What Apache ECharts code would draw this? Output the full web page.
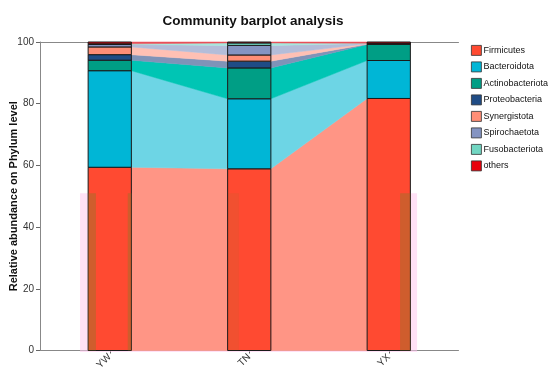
<!DOCTYPE html>
<html>
<head>
<meta charset="utf-8">
<script src="https://cdn.jsdelivr.net/npm/echarts@6/dist/echarts.min.js"></script>
<style>html,body{margin:0;padding:0;background:#fff}#c{width:550px;height:375px}</style>
</head>
<body>
<div id="c"></div>
<script>
// ---- data ----
const categories = ['YW', 'TN', 'YX'];
const phyla = ['Firmicutes', 'Bacteroidota', 'Actinobacteriota', 'Proteobacteria',
               'Synergistota', 'Spirochaetota', 'Fusobacteriota', 'others'];
const firmicutes       = [59.4, 58.9, 81.7];
const bacteroidota     = [31.3, 22.7, 12.3];
const actinobacteriota = [3.4, 10.0, 5.2];
const proteobacteria   = [1.8, 2.2, 0.1];
const synergistota     = [2.5, 2.0, 0.1];
const spirochaetota    = [0.8, 3.1, 0.1];
const fusobacteriota   = [0.2, 0.8, 0.1];
const others           = [0.6, 0.3, 0.4];
const yTicks = [0, 20, 40, 60, 80, 100];
const shadeTop = 51; // top of the faint pink backdrop

// ---- styles ----
const barColors  = ['#FF4A31', '#00B6D6', '#009E85', '#1F4C85', '#FF8E76', '#8494C2', '#71D6C2', '#E8000B'];
const flowColors = ['#FF9585', '#6DD5E5', '#00C5B4', '#7F93B8', '#FFC0B4', '#B3BDD9', '#A6E8DC', '#E8505A'];
const BAR_FRAC = 0.31;
const FONT = 'Liberation Sans, Arial, sans-serif';

const values = [firmicutes, bacteroidota, actinobacteriota, proteobacteria,
                synergistota, spirochaetota, fusobacteriota, others];
// cumulative stacks
const bottoms = [], tops = [];
values.forEach((arr, k) => {
  bottoms.push(arr.map((v, i) => k === 0 ? 0 : tops[k - 1][i]));
  tops.push(arr.map((v, i) => bottoms[k][i] + v));
});

function band(api) { return api.coord([1, 0])[0] - api.coord([0, 0])[0]; }

const barSeries = phyla.map((name, k) => ({
  name: name,
  type: 'custom',
  z: 3,
  itemStyle: { color: barColors[k] },
  data: categories.map((c, i) => [i, bottoms[k][i], tops[k][i]]),
  renderItem: function (params, api) {
    const i = api.value(0);
    const pt = api.coord([i, api.value(2)]);
    const pb = api.coord([i, api.value(1)]);
    const w = band(api) * BAR_FRAC;
    return {
      type: 'rect',
      shape: { x: pt[0] - w / 2, y: pt[1], width: w, height: pb[1] - pt[1] },
      style: { fill: barColors[k], stroke: '#1a1a1a', lineWidth: 1 }
    };
  }
}));

const flowData = [];
values.forEach((arr, k) => {
  for (let i = 0; i < categories.length - 1; i++) {
    flowData.push([i, bottoms[k][i], tops[k][i], bottoms[k][i + 1], tops[k][i + 1], k]);
  }
});

const flowSeries = {
  type: 'custom',
  z: 2,
  silent: true,
  data: flowData,
  renderItem: function (params, api) {
    const i = api.value(0), k = api.value(5);
    const w = band(api) * BAR_FRAC;
    const a0 = api.coord([i, api.value(1)]), a1 = api.coord([i, api.value(2)]);
    const b0 = api.coord([i + 1, api.value(3)]), b1 = api.coord([i + 1, api.value(4)]);
    const xr = a0[0] + w / 2, xl = b0[0] - w / 2;
    return {
      type: 'polygon',
      shape: { points: [[xr, a1[1]], [xl, b1[1]], [xl, b0[1]], [xr, a0[1]]] },
      style: { fill: flowColors[k], stroke: flowColors[k], lineWidth: 0.5 }
    };
  }
};

// faint pink backdrop seen in the reference
const shadeSeries = {
  type: 'custom',
  z: 1,
  silent: true,
  data: [[0, shadeTop]],
  renderItem: function (params, api) {
    const bw = band(api);
    const p0 = api.coord([0, api.value(1)]);
    const p2 = api.coord([categories.length - 1, 0]);
    const xl = p0[0] - 0.213 * bw, xr = p2[0] + 0.203 * bw;
    return {
      type: 'rect',
      shape: { x: xl, y: p0[1], width: xr - xl, height: p2[1] - p0[1] + 1.5 },
      style: { fill: 'rgba(255,200,238,0.55)' }
    };
  }
};

// brownish tinted strips over the lower bars in the reference
const stripSeries = {
  type: 'custom',
  z: 4,
  silent: true,
  data: [[0, shadeTop]],
  renderItem: function (params, api) {
    const bw = band(api);
    const yTop = api.coord([0, api.value(1)])[1];
    const yBot = api.coord([0, 0])[1];
    const specs = [[0, -0.154, -0.099, 0.42], [0, 0.129, 0.155, 0.42],
                   [1, -0.150, -0.074, 0.12], [2, 0.081, 0.155, 0.42]];
    return {
      type: 'group',
      children: specs.map(s => {
        const cx = api.coord([s[0], 0])[0];
        return {
          type: 'rect',
          shape: { x: cx + s[1] * bw, y: yTop, width: (s[2] - s[1]) * bw, height: yBot - yTop },
          style: { fill: 'rgba(140,120,40,' + s[3] + ')' }
        };
      })
    };
  }
};

const chart = echarts.init(document.getElementById('c'), null, { renderer: 'canvas' });
chart.setOption({
  animation: false,
  backgroundColor: '#fff',
  title: {
    text: 'Community barplot analysis',
    left: 248, top: 9, textAlign: 'center',
    textStyle: { fontFamily: FONT, fontSize: 13.5, fontWeight: 'bold', color: '#111' }
  },
  legend: {
    data: phyla,
    orient: 'vertical',
    left: 471, top: 45,
    padding: 0,
    itemWidth: 10, itemHeight: 10, itemGap: 5.7,
    icon: 'rect',
    itemStyle: { borderColor: '#333', borderWidth: 0.8 },
    textStyle: { fontFamily: FONT, fontSize: 9, color: '#111', padding: [0, 0, 0, -3] }
  },
  grid: { left: 40, top: 42, width: 418.5, bottom: 24.5, outerBoundsMode: 'none', containLabel: false },
  xAxis: [{
    type: 'category',
    data: categories,
    boundaryGap: true,
    axisLine: { show: true, lineStyle: { color: '#888', width: 1 } },
    axisTick: { show: true, alignWithLabel: true, length: 3, lineStyle: { color: '#666' } },
    axisLabel: { rotate: 45, fontSize: 10, margin: 5, color: '#333', fontFamily: FONT },
    splitLine: { show: false }
  }, {
    type: 'category',
    position: 'top',
    data: categories,
    axisLine: { show: true, lineStyle: { color: '#888', width: 1 } },
    axisTick: { show: false },
    axisLabel: { show: false }
  }],
  yAxis: {
    type: 'value',
    min: yTicks[0], max: yTicks[yTicks.length - 1], interval: 20,
    name: 'Relative abundance on Phylum level',
    nameLocation: 'middle',
    nameGap: 21,
    nameMoveOverlap: false,
    nameTextStyle: { fontFamily: FONT, fontSize: 11, fontWeight: 'bold', color: '#111' },
    axisLine: { show: true, lineStyle: { color: '#888', width: 1 } },
    axisTick: { show: true, length: 4, lineStyle: { color: '#666' } },
    axisLabel: { fontSize: 10, margin: 6, color: '#333', fontFamily: FONT },
    splitLine: { show: false }
  },
  series: barSeries.concat([flowSeries, shadeSeries, stripSeries])
});
</script>
</body>
</html>
